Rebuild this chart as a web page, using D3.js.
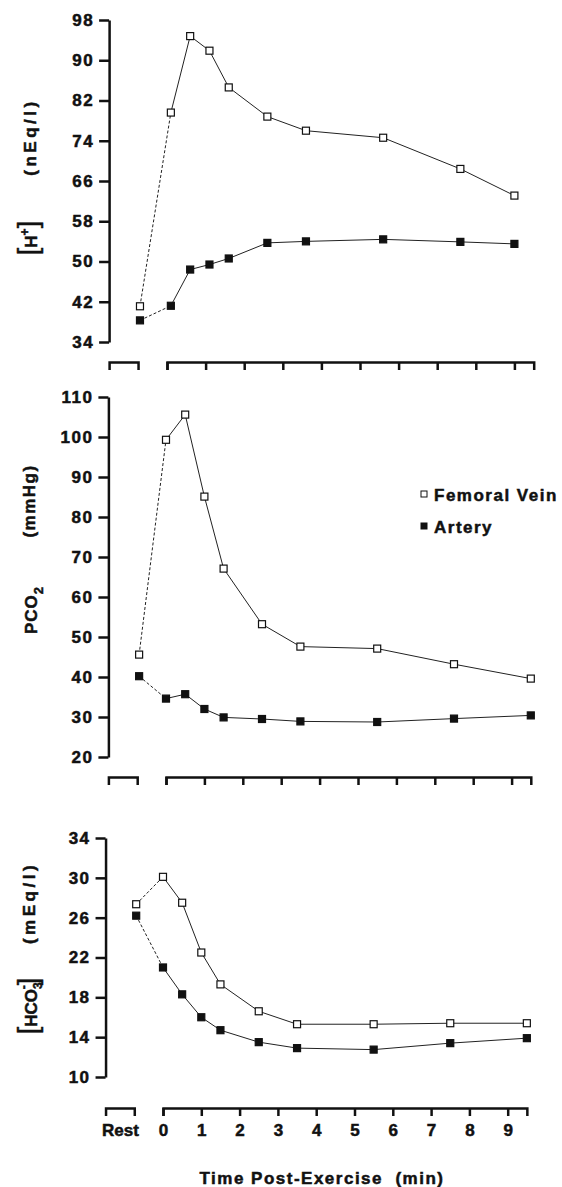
<!DOCTYPE html>
<html>
<head>
<meta charset="utf-8">
<script src="https://cdn.jsdelivr.net/npm/d3@7"></script>
<style>
body { margin: 0; background: #fff; }
text { font-family: "Liberation Sans", Arial, sans-serif; font-weight: bold; fill: #111; stroke: #111; stroke-width: 0.5px; }
</style>
</head>
<body>
<script>
var width = 562;
var height = 1187;

// sampling times (min post-exercise); rest sits on its own bracket
var restTime = -0.7;
var timesTop = [0.1, 0.6, 1.1, 1.6, 2.6, 3.6, 5.6, 7.6, 9.0];
var times = [0, 0.5, 1, 1.5, 2.5, 3.5, 5.5, 7.5, 9.5];
var xTicks = [0, 1, 2, 3, 4, 5, 6, 7, 8, 9];

// first value of each series is the rest value
var hVein   = [41.1, 79.6, 94.8, 91.9, 84.6, 78.8, 76.0, 74.6, 68.4, 63.1];
var hArtery = [38.3, 41.2, 48.4, 49.4, 50.6, 53.7, 54.0, 54.4, 53.9, 53.5];
var pco2Vein   = [45.6, 99.3, 105.6, 85.1, 67.1, 53.2, 47.6, 47.1, 43.2, 39.6];
var pco2Artery = [40.2, 34.6, 35.7, 32.0, 29.9, 29.5, 28.9, 28.75, 29.6, 30.4];
var hco3Vein   = [27.35, 30.1, 27.5, 22.5, 19.3, 16.6, 15.3, 15.3, 15.4, 15.4];
var hco3Artery = [26.2, 21.0, 18.3, 16.0, 14.7, 13.5, 12.9, 12.75, 13.4, 13.9];

var hTicks = [34, 42, 50, 58, 66, 74, 82, 90, 98];
var pco2Ticks = [20, 30, 40, 50, 60, 70, 80, 90, 100, 110];
var hco3Ticks = [10, 14, 18, 22, 26, 30, 34];

var legendLabels = ["Femoral Vein", "Artery"];

var svg = d3.select("body").append("svg")
    .attr("width", width)
    .attr("height", height);

var panels = [
    {vein: hVein, artery: hArtery, times: timesTop, ticks: hTicks,
     top: 20, bottom: 342, x0: 167, k: 38.6, xAxisY: 362, labels: false},
    {vein: pco2Vein, artery: pco2Artery, times: times, ticks: pco2Ticks,
     top: 397, bottom: 757, x0: 166, k: 38.4, xAxisY: 777, labels: false},
    {vein: hco3Vein, artery: hco3Artery, times: times, ticks: hco3Ticks,
     top: 838, bottom: 1077, x0: 163, k: 38.3, xAxisY: 1108, labels: true}
];

var markerSize = 7;

panels.forEach(function(p) {
    var x = d3.scaleLinear()
        .domain([0, 9.5])
        .range([p.x0, p.x0 + 9.5 * p.k]);
    var y = d3.scaleLinear()
        .domain(d3.extent(p.ticks))
        .range([p.bottom, p.top]);

    var axisX = x(-1.5);
    var g = svg.append("g");

    // y axis
    var yAxis = g.append("g")
        .attr("transform", "translate(" + axisX + ",0)")
        .call(d3.axisLeft(y).tickValues(p.ticks).tickSize(10).tickSizeOuter(0).tickPadding(5));
    yAxis.attr("font-family", null).attr("font-size", null);
    yAxis.selectAll("path, line").attr("stroke", "#111").attr("stroke-width", 2.5);
    yAxis.selectAll("text")
        .attr("font-size", 17)
        .style("letter-spacing", "1.5px");

    // main time axis bracket
    var xAxis = g.append("g")
        .attr("transform", "translate(0," + p.xAxisY + ")")
        .call(d3.axisBottom(x).tickValues(xTicks).tickSize(8).tickSizeOuter(8).tickPadding(6)
            .tickFormat(function(d) { return p.labels ? d : ""; }));
    xAxis.attr("font-family", null).attr("font-size", null);
    xAxis.selectAll("path, line").attr("stroke", "#111").attr("stroke-width", 2.5);
    xAxis.selectAll("text").attr("font-size", 17).attr("dy", "0.85em");

    // rest bracket
    var xr = d3.scaleLinear().domain([-1.5, -0.75]).range([x(-1.5), x(-0.75)]);
    var restAxis = g.append("g")
        .attr("transform", "translate(0," + p.xAxisY + ")")
        .call(d3.axisBottom(xr).tickValues([-1.125]).tickSize(0).tickSizeOuter(8).tickPadding(14)
            .tickFormat(function() { return p.labels ? "Rest" : ""; }));
    restAxis.attr("font-family", null).attr("font-size", null);
    restAxis.selectAll("path").attr("stroke", "#111").attr("stroke-width", 2.5);
    restAxis.selectAll("text").attr("font-size", 17).attr("dy", "0.85em");

    var xs = [restTime].concat(p.times);

    [p.vein, p.artery].forEach(function(vals, si) {
        var pts = vals.map(function(v, i) { return [x(xs[i]), y(v)]; });
        var line = d3.line();

        g.append("path")
            .attr("d", line(pts.slice(0, 2)))
            .attr("fill", "none")
            .attr("stroke", "#222")
            .attr("stroke-width", 1)
            .attr("stroke-dasharray", "3,2");

        g.append("path")
            .attr("d", line(pts.slice(1)))
            .attr("fill", "none")
            .attr("stroke", "#222")
            .attr("stroke-width", 1);

        g.selectAll(null)
            .data(pts)
            .enter().append("rect")
            .attr("x", function(d) { return d[0] - markerSize / 2; })
            .attr("y", function(d) { return d[1] - markerSize / 2; })
            .attr("width", markerSize)
            .attr("height", markerSize)
            .attr("fill", si === 0 ? "#fff" : "#111")
            .attr("stroke", "#111")
            .attr("stroke-width", 1.2);
    });
});

// legend
var legend = svg.append("g");
legendLabels.forEach(function(name, i) {
    var ly = 494 + i * 32;
    legend.append("rect")
        .attr("x", 421).attr("y", ly - 3)
        .attr("width", 6).attr("height", 6)
        .attr("fill", i === 0 ? "#fff" : "#111")
        .attr("stroke", "#111")
        .attr("stroke-width", 1);
    legend.append("text")
        .attr("x", 434).attr("y", ly + 7)
        .attr("font-size", 17)
        .style("letter-spacing", "1.5px")
        .text(name);
});

// y titles
function yTitle(cx, cy, build) {
    var t = svg.append("text")
        .attr("transform", "translate(" + cx + "," + cy + ") rotate(-90)")
        .attr("text-anchor", "middle")
        .attr("font-size", 17);
    build(t);
}

yTitle(36, 137, function(t) { t.style("letter-spacing", "3.5px").text("(nEq/l)"); });
yTitle(37, 238, function(t) {
    t.append("tspan").attr("font-size", 27).attr("font-weight", "normal").text("[");
    t.append("tspan").text("H");
    t.append("tspan").attr("font-size", 12).attr("dy", -8).text("+");
    t.append("tspan").attr("font-size", 27).attr("font-weight", "normal").attr("dy", 8).text("]");
});
yTitle(35, 501, function(t) { t.style("letter-spacing", "1.5px").text("(mmHg)"); });
yTitle(37, 610, function(t) {
    t.style("letter-spacing", "1px");
    t.append("tspan").text("PCO");
    t.append("tspan").attr("font-size", 13).attr("dy", 6).text("2");
});
yTitle(35, 903, function(t) { t.style("letter-spacing", "3.5px").text("(mEq/l)"); });
yTitle(37, 1006, function(t) {
    t.append("tspan").attr("font-size", 27).attr("font-weight", "normal").text("[");
    t.append("tspan").text("HCO");
    t.append("tspan").attr("font-size", 12).attr("dy", 5).text("3");
    t.append("tspan").attr("font-size", 12).attr("dx", -7).attr("dy", -14).text("-");
    t.append("tspan").attr("font-size", 27).attr("font-weight", "normal").attr("dy", 9).text("]");
});

// x title
svg.append("text")
    .attr("x", 322)
    .attr("y", 1184)
    .attr("text-anchor", "middle")
    .attr("font-size", 17)
    .style("letter-spacing", "1.5px")
    .style("white-space", "pre")
    .text("Time Post-Exercise  (min)");
</script>
</body>
</html>
